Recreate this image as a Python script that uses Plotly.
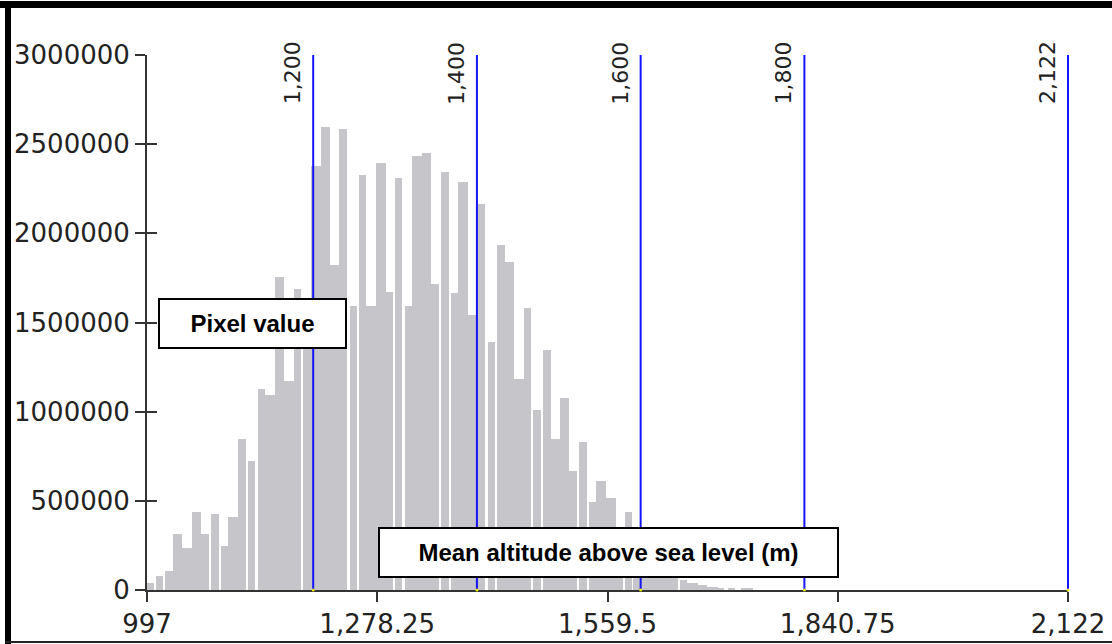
import plotly.graph_objects as go

# Histogram of mean altitude above sea level: bin edges (m) and pixel counts
bin_lo = [997.5, 1007.5, 1019.5, 1028.5, 1040.0, 1051.5, 1063.5, 1075.5, 1087.5, 1096.5,
          1108.5, 1120.0, 1132.0, 1141.0, 1153.0, 1164.5, 1176.5, 1188.0, 1197.5, 1209.0,
          1220.5, 1232.0, 1245.0, 1256.0, 1265.0, 1277.0, 1289.0, 1300.5, 1312.0, 1321.0,
          1332.5, 1344.5, 1356.5, 1368.5, 1377.0, 1389.0, 1399.0, 1413.0, 1424.5, 1434.0,
          1445.0, 1457.5, 1469.0, 1480.5, 1490.0, 1502.0, 1513.0, 1524.5, 1537.0, 1546.0,
          1557.5, 1569.5, 1581.0, 1590.5, 1600.5, 1610.5, 1623.0, 1634.0, 1647.5, 1657.0,
          1669.5, 1681.5, 1694.0, 1707.0, 1723.0]
bin_hi = [1005.0, 1016.5, 1028.5, 1040.0, 1051.5, 1063.5, 1072.5, 1084.5, 1096.5, 1108.5,
          1117.5, 1129.0, 1141.0, 1153.0, 1164.5, 1176.5, 1185.5, 1197.5, 1209.0, 1220.5,
          1232.0, 1241.0, 1253.5, 1265.0, 1277.0, 1289.0, 1297.5, 1309.0, 1321.0, 1332.5,
          1344.5, 1353.5, 1365.5, 1377.0, 1389.0, 1399.0, 1410.0, 1422.0, 1434.0, 1445.0,
          1457.5, 1466.0, 1478.0, 1490.0, 1502.0, 1513.0, 1522.0, 1534.0, 1546.0, 1557.5,
          1569.5, 1578.5, 1589.5, 1600.5, 1610.5, 1623.0, 1634.0, 1645.0, 1656.0, 1669.5,
          1681.5, 1694.0, 1702.0, 1715.0, 1737.0]
counts = [42000, 79000, 109000, 315000, 233000, 435000, 315000, 424000, 246000, 410000,
          845000, 723000, 1129000, 1095000, 1754000, 1174000, 1688000, 1500000, 2380000, 2599000,
          1825000, 2584000, 1593000, 2326000, 1593000, 2397000, 1673000, 2313000, 1593000, 2436000,
          2450000, 1716000, 2343000, 1664000, 2288000, 1540000, 2165000, 1389000, 1933000, 1840000,
          1185000, 1580000, 1009000, 1347000, 846000, 1075000, 667000, 829000, 491000, 612000,
          517000, 320000, 435000, 280000, 230000, 170000, 125000, 90000, 55000, 40000,
          27000, 18000, 13000, 10000, 8000]

# Class breaks drawn as vertical lines
breaks = [1200, 1400, 1600, 1800, 2122]
break_labels = ["1,200", "1,400", "1,600", "1,800", "2,122"]

# Axis ticks
x_ticks = [997, 1278.25, 1559.5, 1840.75, 2122]
x_tick_text = ["997", "1,278.25", "1,559.5", "1,840.75", "2,122"]
y_ticks = [0, 500000, 1000000, 1500000, 2000000, 2500000, 3000000]
y_tick_text = [str(v) for v in y_ticks]

x_min, x_max = 997, 2122
y_max = 3000000

W, H = 1112, 644
ML, MR, MT, MB = 147, 35, 55, 54
plot_w = W - ML - MR
plot_h = H - MT - MB
main_w = 921  # pixel width of the value axis
main_frac = main_w / plot_w
x2_max = x_min + (x_max - x_min) / main_frac

TICK_FONT = dict(family="DejaVu Sans", size=26, color="#222222")
AX = "#333333"

centers = [(a + b) / 2 for a, b in zip(bin_lo, bin_hi)]
widths = [b - a for a, b in zip(bin_lo, bin_hi)]

fig = go.Figure()
fig.add_trace(go.Bar(
    x=centers, y=counts, width=widths,
    marker=dict(color="#c6c5ca", line=dict(width=0)),
    xaxis="x", yaxis="y", hoverinfo="skip", showlegend=False,
))

# Break lines live on a second, slightly wider x scale so the last one is not clipped
lx, ly = [], []
for v in breaks:
    lx += [v, v, None]
    ly += [0, y_max, None]
fig.add_trace(go.Scatter(
    x=lx, y=ly, mode="lines", line=dict(color="#1414ff", width=2),
    xaxis="x2", yaxis="y2", hoverinfo="skip", showlegend=False,
))
fig.add_trace(go.Scatter(
    x=breaks, y=[0] * len(breaks), mode="markers",
    marker=dict(color="#e8e800", size=3, line=dict(width=0)),
    cliponaxis=False, xaxis="x2", yaxis="y2", hoverinfo="skip", showlegend=False,
))


def px_x(px):
    return (px - ML) / plot_w


def px_y(py):
    return (H - MB - py) / plot_h


annotations = []
for v, t in zip(breaks, break_labels):
    annotations.append(dict(
        x=v, xref="x2", y=px_y(73), yref="paper", text=t, textangle=-90,
        showarrow=False, xshift=-20, xanchor="center", yanchor="middle",
        font=dict(family="DejaVu Sans", size=22, color="#222222"),
    ))

BOX_FONT = dict(family="Liberation Sans", size=24, color="#000000", weight="bold")
annotations.append(dict(
    x=px_x(252), y=px_y(323.5), xref="paper", yref="paper",
    text="<b>Pixel value</b>", showarrow=False, xanchor="center", yanchor="middle",
    width=185, height=47, borderpad=0, borderwidth=2, bordercolor="#000000",
    bgcolor="#ffffff", font=BOX_FONT,
))
annotations.append(dict(
    x=px_x(608), y=px_y(552.5), xref="paper", yref="paper",
    text="<b>Mean altitude above sea level (m)</b>", showarrow=False,
    xanchor="center", yanchor="middle",
    width=457, height=47, borderpad=0, borderwidth=2, bordercolor="#000000",
    bgcolor="#ffffff", font=BOX_FONT,
))

# Frame around the figure
shapes = [
    dict(type="rect", xref="paper", yref="paper", x0=px_x(0), x1=px_x(W),
         y0=px_y(8), y1=px_y(1), fillcolor="#000000", line=dict(width=0), layer="above"),
    dict(type="rect", xref="paper", yref="paper", x0=px_x(5), x1=px_x(11),
         y0=px_y(H), y1=px_y(1), fillcolor="#000000", line=dict(width=0), layer="above"),
    dict(type="rect", xref="paper", yref="paper", x0=px_x(5), x1=px_x(W),
         y0=px_y(643), y1=px_y(641), fillcolor="#222222", line=dict(width=0), layer="above"),
]

fig.update_layout(
    width=W, height=H,
    margin=dict(l=ML, r=MR, t=MT, b=MB, pad=0),
    paper_bgcolor="#ffffff", plot_bgcolor="rgba(0,0,0,0)",
    showlegend=False,
    bargap=0,
    xaxis=dict(
        domain=[0, main_frac], range=[x_min, x_max], anchor="y",
        tickmode="array", tickvals=x_ticks, ticktext=x_tick_text,
        ticks="outside", ticklen=10, tickwidth=2, tickcolor=AX,
        showline=True, linecolor=AX, linewidth=2,
        showgrid=False, zeroline=False, tickfont=TICK_FONT,
        automargin=False, fixedrange=True,
    ),
    yaxis=dict(
        domain=[0, 1], range=[0, y_max], anchor="x",
        tickmode="array", tickvals=y_ticks, ticktext=y_tick_text,
        ticks="outside", ticklen=10, tickwidth=2, tickcolor=AX,
        showline=True, linecolor=AX, linewidth=2,
        showgrid=False, zeroline=False, tickfont=TICK_FONT,
        automargin=False, fixedrange=True,
    ),
    xaxis2=dict(
        domain=[0, 1], range=[x_min, x2_max], anchor="y2",
        visible=False, showgrid=False, zeroline=False, fixedrange=True,
    ),
    yaxis2=dict(
        domain=[0, 1], range=[0, y_max], anchor="x2",
        tickmode="array", tickvals=y_ticks, ticks="inside", ticklen=10, tickwidth=2,
        tickcolor=AX, showticklabels=False, showline=False, showgrid=False,
        zeroline=False, fixedrange=True,
    ),
    annotations=annotations,
    shapes=shapes,
)

fig.write_html("out.html", config=dict(displayModeBar=False))
